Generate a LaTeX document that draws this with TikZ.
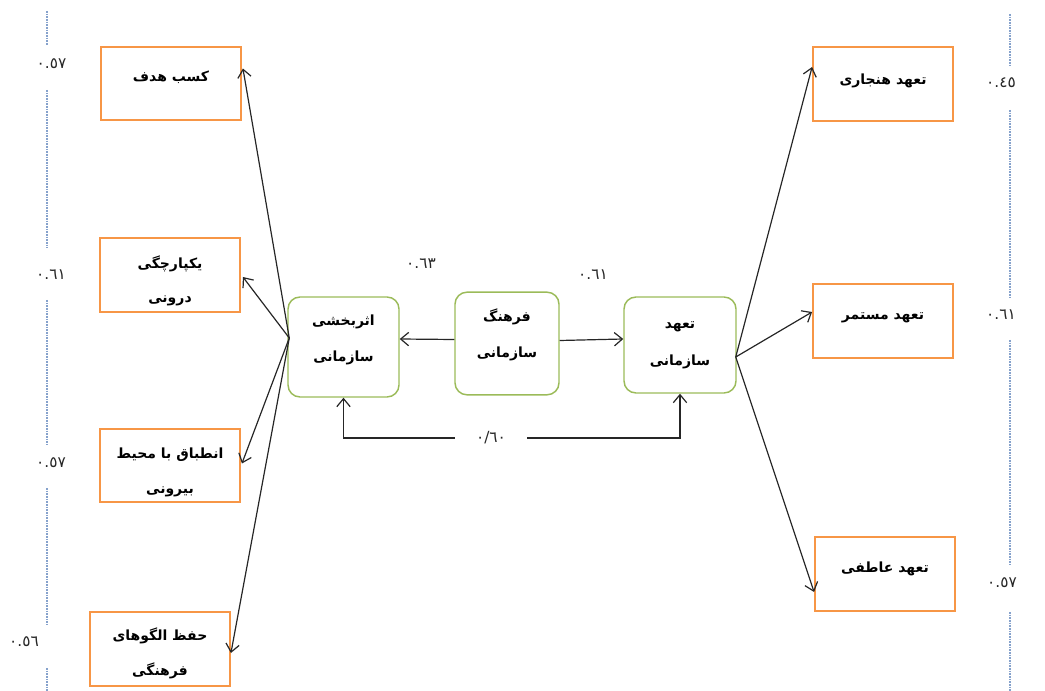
\documentclass[tikz,border=0pt]{standalone}
\usepackage{fontspec}
\newfontfamily\fa[Script=Arabic]{DejaVu Sans}
\TeXXeTstate=1
\usetikzlibrary{arrows.meta,calc}
\definecolor{boxorange}{HTML}{F79646}
\definecolor{boxgreen}{HTML}{9BBB59}
\definecolor{dotblue}{HTML}{86A2CC}
\definecolor{linegray}{HTML}{262626}
\begin{document}
\begin{tikzpicture}[x=0.75pt,y=-0.75pt,
  obox/.style={draw=boxorange, line width=1.4pt, minimum width=105pt, minimum height=55pt,
    inner sep=0pt, align=center, font=\fa\bfseries\fontsize{10.5}{26}\selectfont},
  gbox/.style={draw=boxgreen, line width=1.1pt, rounded corners=9pt, inner sep=0pt,
    align=center, font=\fa\bfseries\fontsize{10.5}{27.5}\selectfont},
  th/.style={text height=#1, text depth=0pt},
  td/.style={text height=0pt, text depth=#1},
  conn/.style={draw=linegray, line width=0.9pt, -{Straight Barb[length=6pt,width=10pt,line width=0.9pt]}},
  num/.style={font=\fa\fontsize{11.5}{13}\selectfont, text=black!85, inner sep=1pt},
  guide/.style={draw=dotblue, line width=1.1pt, dash pattern=on 1.2pt off 0.8pt}]
\useasboundingbox (0,0) rectangle (1045,691);

% left boxes
\node[obox, td=2.25pt] (g1) at (171,83.5) {\beginR کسب هدف\endR};
\node[obox, th=42pt] (g2) at (170,275) {\beginR یکپارچگی\endR\\\beginR درونی\endR};
\node[obox, th=41.25pt] (g3) at (170,465.5) {\beginR انطباق با محیط\endR\\\beginR بیرونی\endR};
\node[obox, th=39pt] (g4) at (160,649) {\beginR حفظ الگوهای\endR\\\beginR فرهنگی\endR};

% right boxes
\node[obox, th=1.5pt] (r1) at (883,84) {\beginR تعهد هنجاری\endR};
\node[obox, td=1.5pt] (r2) at (883,321) {\beginR تعهد مستمر\endR};
\node[obox, td=3pt] (r3) at (885,574) {\beginR تعهد عاطفی\endR};

% central boxes
\node[gbox, th=22.5pt, minimum width=83.25pt, minimum height=75pt] (eff) at (343.5,347) {\beginR اثربخشی\endR\\\beginR سازمانی\endR};
\node[gbox, th=21.75pt, minimum width=78pt, minimum height=77pt] (cul) at (507,343.5) {\beginR فرهنگ\endR\\\beginR سازمانی\endR};
\node[gbox, th=30pt, minimum width=84pt, minimum height=72pt] (com) at (680,345) {\beginR تعهد\endR\\\beginR سازمانی\endR};

% fans
\coordinate (effhub) at ($(eff.west)+(2,-9)$);
\draw[conn] (effhub) -- ($(g1.east)+(1,-15)$);
\draw[conn] (effhub) -- ($(g2.east)+(2,2)$);
\draw[conn] (effhub) -- ($(g3.east)+(1,-2)$);
\draw[conn] (effhub) -- ($(g4.east)+(0,4)$);
\coordinate (comhub) at ($(com.east)+(-1,12)$);
\draw[conn] (comhub) -- ($(r1.west)+(0,-17)$);
\draw[conn] (comhub) -- ($(r2.west)+(0,-9)$);
\draw[conn] (comhub) -- ($(r3.west)+(0,18)$);

% middle arrows
\draw[conn] ($(cul.west)+(0,-4)$) -- ($(eff.east)+(0,-8)$);
\draw[conn] ($(cul.east)+(0,-3)$) -- ($(com.west)+(0,-6)$);

% correlation
\node[num, minimum width=54pt] (corr) at (491,438) {٠/٦٠};
\draw[conn] (corr.west) -| (eff.south);
\draw[conn] (corr.east) -| (com.south);

% numbers
\node[num] (n1) at (51.5,64) {٠.٥٧};
\node[num] (n2) at (51,275) {٠.٦١};
\node[num] (n3) at (51,463) {٠.٥٧};
\node[num] (n4) at (24,642) {٠.٥٦};
\node[num] (m1) at (1001,83) {٠.٤٥};
\node[num] (m2) at (1001,315) {٠.٦١};
\node[num] (m3) at (1002,583) {٠.٥٧};
\node[num] (c1) at (421,264) {٠.٦٣};
\node[num] (c2) at (593,275) {٠.٦١};

% guide lines
\draw[guide] (47,11) -- (47,45);
\draw[guide] (47,90) -- (47,248);
\draw[guide] (47,300) -- (47,445);
\draw[guide] (47,488) -- (47,625);
\draw[guide] (47,668) -- (47,691);
\draw[guide] (1010,14) -- (1010,67);
\draw[guide] (1010,110) -- (1010,298);
\draw[guide] (1010,340) -- (1010,565);
\draw[guide] (1010,612) -- (1010,691);
\end{tikzpicture}
\end{document}
